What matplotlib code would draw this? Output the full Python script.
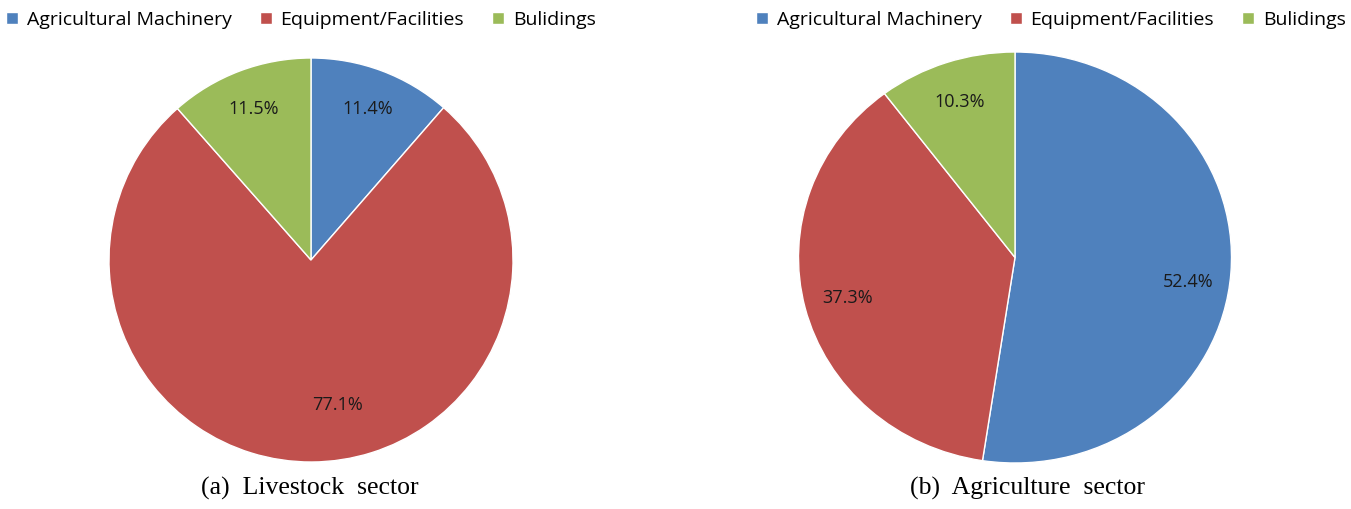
import matplotlib.pyplot as plt
import matplotlib
matplotlib.rcParams['font.size'] = 11

categories = ['Agricultural Machinery', 'Equipment/Facilities', 'Bulidings']
livestock = [11.4, 77.1, 11.5]
agriculture = [52.4, 37.3, 10.3]
colors = ['#4F81BD', '#C0504D', '#9BBB59']

W, H = 1351, 509
fig = plt.figure(figsize=(W / 100, H / 100), dpi=100)


def add_pie(cx, cy, rx, ry, values, pctdist):
    ax = fig.add_axes([(cx - rx) / W, (H - cy - ry) / H, 2 * rx / W, 2 * ry / H])
    wedges, _, texts = ax.pie(values, colors=colors, startangle=90, counterclock=False,
                              autopct='%.1f%%', pctdistance=pctdist,
                              wedgeprops=dict(edgecolor='white', linewidth=1),
                              textprops=dict(fontsize=13, color='#1a1a1a', family='Open Sans'))
    ax.set_xlim(-1, 1)
    ax.set_ylim(-1, 1)
    ax.set_aspect('auto')
    return ax, wedges, texts


ax1, w1, t1 = add_pie(311, 260, 202, 202, livestock, 0.8)
ax2, w2, t2 = add_pie(1015, 257.5, 216.5, 205.5, agriculture, 0.8)
# Excel put the big slice's label a bit right of the middle
t1[1].set_position((0.13, -0.72))
x, y = t2[0].get_position()
t2[0].set_position((x, y - 0.06))

# legends across the top
leg_kw = dict(loc='upper left', ncol=3, frameon=False, handlelength=0.62, handleheight=0.62,
              handletextpad=0.45, columnspacing=1.45, borderaxespad=0,
              prop=dict(family='Open Sans', size=14))
fig.legend(w1, categories, bbox_to_anchor=(-2 / W, 1 - 3 / H), **leg_kw)
fig.legend(w2, categories, bbox_to_anchor=(748 / W, 1 - 3 / H), **leg_kw)

fig.text(310 / W, 1 - 488 / H, '(a)  Livestock  sector', ha='center', va='center',
         family='Liberation Serif', fontsize=18.5)
fig.text(1027 / W, 1 - 488 / H, '(b)  Agriculture  sector', ha='center', va='center',
         family='Liberation Serif', fontsize=18.5)

fig.savefig('out.png', dpi=100)
